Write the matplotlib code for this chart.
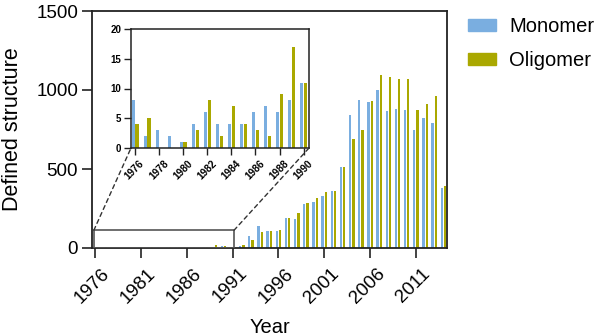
import matplotlib
matplotlib.use('Agg')
import matplotlib.pyplot as plt
import matplotlib.transforms as mtransforms
import numpy as np
from matplotlib.patches import Rectangle, ConnectionPatch, Patch

plt.rcParams['font.family'] = ['Liberation Sans', 'DejaVu Sans']

# data
years = np.arange(1976, 2015)
monomer = [8, 2, 3, 2, 1, 4, 6, 4, 4, 4, 6, 7, 6, 8, 11,
           5, 15, 76, 142, 106, 110, 193, 186, 278, 292, 331, 360, 515,
           843, 937, 921, 1002, 865, 877, 876, 746, 820, 793, 381]
oligomer = [4, 5, 0, 0, 1, 3, 8, 2, 7, 4, 3, 2, 9, 17, 11,
            7, 21, 51, 100, 110, 114, 193, 220, 284, 314, 354, 360, 515,
            693, 748, 928, 1096, 1085, 1070, 1068, 873, 913, 962, 394]
main_ticks = years[::5]
main_yticks = [0, 500, 1000, 1500]
inset_years = years[:15]
inset_ticks = inset_years[::2]
inset_yticks = [0, 5, 10, 15, 20]

blue = '#7aaee0'
olive = '#aaa800'
line_c = '#222222'

fig = plt.figure(figsize=(5.97, 3.36), dpi=100)
ax = fig.add_axes([92/597, 1 - 248/336, 355/597, 237/336])

ax.bar(years - 0.18, monomer, 0.25, color=blue, zorder=2)
ax.bar(years + 0.18, oligomer, 0.25, color=olive, zorder=2)
ax.set_xlim(1975.65, 2014.4)
ax.set_ylim(0, 1500)
ax.set_xticks(main_ticks)
ax.set_xticklabels([str(y) for y in main_ticks], rotation=45, ha='right',
                   rotation_mode='anchor')
ax.set_yticks(main_yticks)
ax.tick_params(length=7, width=1.2, labelsize=13.5, color=line_c, pad=3)
shift = mtransforms.ScaledTranslation(6/100, -3/100, fig.dpi_scale_trans)
for lab in ax.get_xticklabels():
    lab.set_transform(lab.get_transform() + shift)
for s in ax.spines.values():
    s.set_linewidth(1.3)
    s.set_color(line_c)
ax.set_xlabel('Year', fontsize=14.5)
ax.xaxis.set_label_coords(0.5, -0.295)
ax.set_ylabel('Defined structure', fontsize=15.5)
ax.yaxis.set_label_coords(-0.195, 0.5)

# zoom box on the early years
ax.add_patch(Rectangle((1975.85, 0), 15.3, 112, fill=False, ec='#555555',
                       lw=1.2, zorder=3))

# inset
axins = fig.add_axes([131/597, 1 - 148/336, 178/597, 119/336])
axins.bar(inset_years - 0.15, monomer[:15], 0.27, color=blue)
axins.bar(inset_years + 0.15, oligomer[:15], 0.27, color=olive)
axins.set_xlim(1975.65, 1990.45)
axins.set_ylim(0, 20)
axins.set_xticks(inset_ticks)
axins.set_xticklabels([str(y) for y in inset_ticks], rotation=45, ha='right',
                      rotation_mode='anchor', fontweight='bold', fontsize=7.3)
axins.set_yticks(inset_yticks)
axins.set_yticklabels([str(v) for v in inset_yticks], fontweight='bold', fontsize=7)
axins.tick_params(length=5, width=1, color=line_c, pad=2)
ishift = mtransforms.ScaledTranslation(4/100, -1/100, fig.dpi_scale_trans)
for lab in axins.get_xticklabels():
    lab.set_transform(lab.get_transform() + ishift)
for s in axins.spines.values():
    s.set_linewidth(1.1)
    s.set_color(line_c)

for xa, xb in [(1975.85, 0), (1991.15, 1)]:
    con = ConnectionPatch(xyA=(xa, 112), coordsA=ax.transData,
                          xyB=(xb, 0), coordsB=axins.transAxes,
                          ls=(0, (3, 2.5)), color='#333333', lw=1)
    fig.add_artist(con)

handles = [Patch(color=blue, label='Monomer'), Patch(color=olive, label='Oligomer')]
fig.legend(handles=handles, loc='upper left', bbox_to_anchor=(468/597, 1 - 17/336),
           frameon=False, fontsize=14.5, handlelength=1.4, handleheight=0.55,
           handletextpad=0.65, labelspacing=0.75, borderpad=0, borderaxespad=0)

fig.savefig('out.png', dpi=100)
